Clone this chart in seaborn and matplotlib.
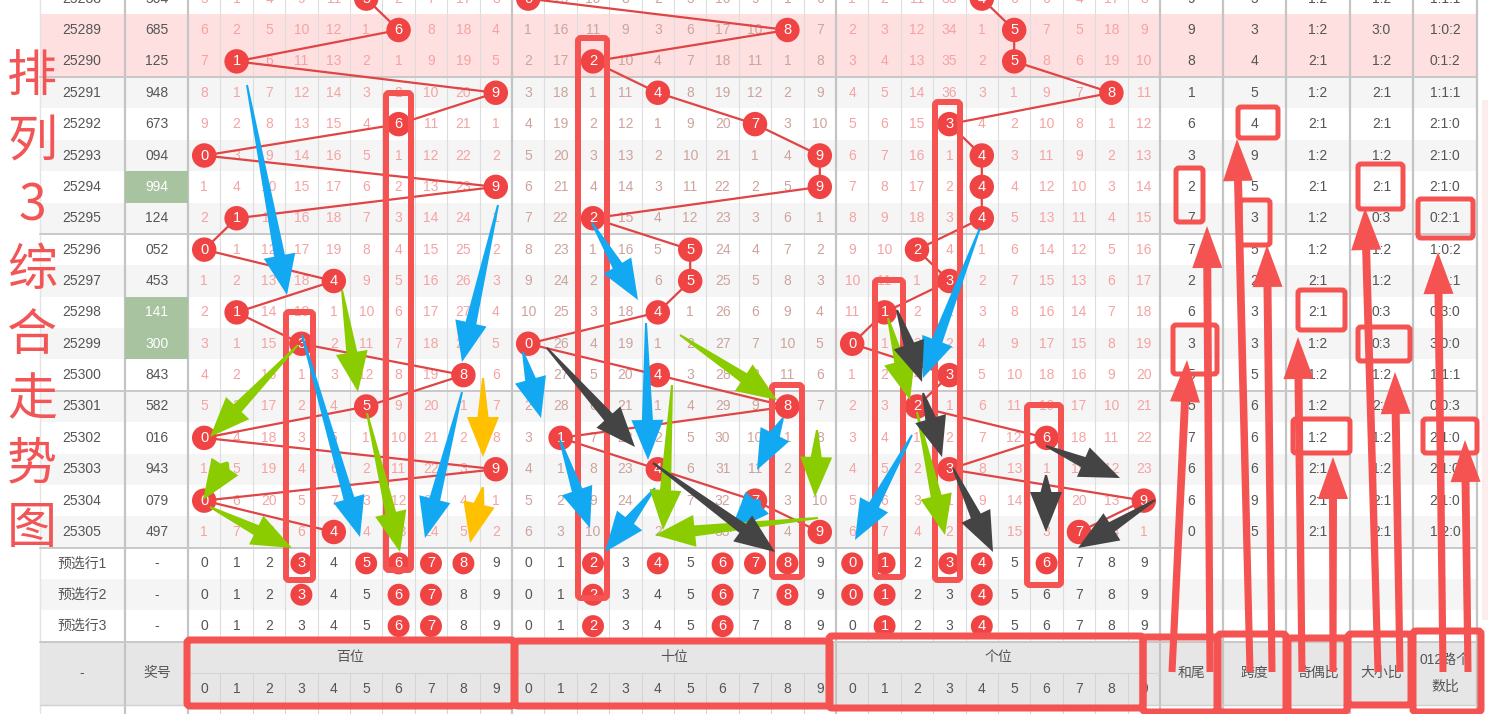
"""
排列3 combined trend chart (omission table with hit balls and hand-drawn marks).
"""
import matplotlib
matplotlib.use("Agg")
import matplotlib.pyplot as plt
from matplotlib.patches import Rectangle, FancyBboxPatch, Polygon
import numpy as np
import pandas as pd
import seaborn as sns

# ---------------- data ----------------
issues = ["25288", "25289", "25290", "25291", "25292", "25293", "25294", "25295", "25296",
          "25297", "25298", "25299", "25300", "25301", "25302", "25303", "25304", "25305"]
draws = ["504", "685", "125", "948", "673", "094", "994", "124", "052",
         "453", "141", "300", "843", "582", "016", "943", "079", "497"]
green_draws = ["25294", "25298", "25299"]
pink_issues = ["25289", "25290"]

# omission values per issue (0 = the hit cell, drawn as a ball)
bai_miss = [
    [5, 1, 4, 9, 11, 0, 2, 7, 17, 3], [6, 2, 5, 10, 12, 1, 0, 8, 18, 4],
    [7, 0, 6, 11, 13, 2, 1, 9, 19, 5], [8, 1, 7, 12, 14, 3, 2, 10, 20, 0],
    [9, 2, 8, 13, 15, 4, 0, 11, 21, 1], [0, 3, 9, 14, 16, 5, 1, 12, 22, 2],
    [1, 4, 10, 15, 17, 6, 2, 13, 23, 0], [2, 0, 11, 16, 18, 7, 3, 14, 24, 1],
    [0, 1, 12, 17, 19, 8, 4, 15, 25, 2], [1, 2, 13, 18, 0, 9, 5, 16, 26, 3],
    [2, 0, 14, 19, 1, 10, 6, 17, 27, 4], [3, 1, 15, 0, 2, 11, 7, 18, 28, 5],
    [4, 2, 16, 1, 3, 12, 8, 19, 0, 6], [5, 3, 17, 2, 4, 0, 9, 20, 1, 7],
    [0, 4, 18, 3, 5, 1, 10, 21, 2, 8], [1, 5, 19, 4, 6, 2, 11, 22, 3, 0],
    [0, 6, 20, 5, 7, 3, 12, 23, 4, 1], [1, 7, 21, 6, 0, 4, 13, 24, 5, 2],
]
shi_miss = [
    [0, 15, 10, 8, 2, 5, 16, 9, 1, 6], [1, 16, 11, 9, 3, 6, 17, 10, 0, 7],
    [2, 17, 0, 10, 4, 7, 18, 11, 1, 8], [3, 18, 1, 11, 0, 8, 19, 12, 2, 9],
    [4, 19, 2, 12, 1, 9, 20, 0, 3, 10], [5, 20, 3, 13, 2, 10, 21, 1, 4, 0],
    [6, 21, 4, 14, 3, 11, 22, 2, 5, 0], [7, 22, 0, 15, 4, 12, 23, 3, 6, 1],
    [8, 23, 1, 16, 5, 0, 24, 4, 7, 2], [9, 24, 2, 17, 6, 0, 25, 5, 8, 3],
    [10, 25, 3, 18, 0, 1, 26, 6, 9, 4], [0, 26, 4, 19, 1, 2, 27, 7, 10, 5],
    [1, 27, 5, 20, 0, 3, 28, 8, 11, 6], [2, 28, 6, 21, 1, 4, 29, 9, 0, 7],
    [3, 0, 7, 22, 2, 5, 30, 10, 1, 8], [4, 1, 8, 23, 0, 6, 31, 11, 2, 9],
    [5, 2, 9, 24, 1, 7, 32, 0, 3, 10], [6, 3, 10, 25, 2, 8, 33, 1, 4, 0],
]
ge_miss = [
    [1, 2, 11, 33, 0, 6, 6, 4, 17, 8], [2, 3, 12, 34, 1, 0, 7, 5, 18, 9],
    [3, 4, 13, 35, 2, 0, 8, 6, 19, 10], [4, 5, 14, 36, 3, 1, 9, 7, 0, 11],
    [5, 6, 15, 0, 4, 2, 10, 8, 1, 12], [6, 7, 16, 1, 0, 3, 11, 9, 2, 13],
    [7, 8, 17, 2, 0, 4, 12, 10, 3, 14], [8, 9, 18, 3, 0, 5, 13, 11, 4, 15],
    [9, 10, 0, 4, 1, 6, 14, 12, 5, 16], [10, 11, 1, 0, 2, 7, 15, 13, 6, 17],
    [11, 0, 2, 1, 3, 8, 16, 14, 7, 18], [0, 1, 3, 2, 4, 9, 17, 15, 8, 19],
    [1, 2, 4, 0, 5, 10, 18, 16, 9, 20], [2, 3, 0, 1, 6, 11, 19, 17, 10, 21],
    [3, 4, 1, 2, 7, 12, 0, 18, 11, 22], [4, 5, 2, 0, 8, 13, 1, 19, 12, 23],
    [5, 6, 3, 1, 9, 14, 2, 20, 13, 0], [6, 7, 4, 2, 10, 15, 3, 0, 14, 1],
]

hewei = ["9", "9", "8", "1", "6", "3", "2", "7", "7", "2", "6", "3", "5", "5", "7", "6", "6", "0"]
kuadu = ["5", "3", "4", "5", "4", "9", "5", "3", "5", "2", "3", "3", "5", "6", "6", "6", "9", "5"]
jiou = ["1:2", "1:2", "2:1", "1:2", "2:1", "1:2", "2:1", "1:2", "1:2",
        "2:1", "2:1", "1:2", "1:2", "1:2", "1:2", "2:1", "2:1", "2:1"]
daxiao = ["1:2", "3:0", "1:2", "2:1", "2:1", "1:2", "2:1", "0:3", "1:2",
          "1:2", "0:3", "0:3", "1:2", "2:1", "1:2", "1:2", "2:1", "2:1"]
lu012 = ["1:1:1", "1:0:2", "0:1:2", "1:1:1", "2:1:0", "2:1:0", "2:1:0", "0:2:1", "1:0:2",
         "1:1:1", "0:3:0", "3:0:0", "1:1:1", "0:0:3", "2:1:0", "2:1:0", "2:1:0", "1:2:0"]

pre_rows = ["预选行1", "预选行2", "预选行3"]
pre_bai = [[3, 5, 6, 7, 8], [3, 6, 7], [6, 7]]
pre_shi = [[2, 4, 6, 7, 8], [2, 6, 8], [2, 6]]
pre_ge = [[0, 1, 3, 4, 6], [0, 1, 4], [1, 4]]

digits = list(range(10))
sections = ["bai", "shi", "ge"]
section_names = ["百位", "十位", "个位"]
stat_headers = ["和尾", "跨度", "奇偶比", "大小比", "012路个\n数比"]
title_chars = list("排列3综合走势图")

# ---------------- layout (pixel canvas) ----------------
W, H = 1488, 714
ROW_H = 31.375
ROW0_Y = -1.375
SEC_X = {"bai": 188.0, "shi": 512.0, "ge": 836.0}
COL_W = 32.4
STAT_EDGES = [1160, 1223, 1286, 1350, 1413, 1477]
TABLE_L, TABLE_R = 40, 1477

BALL = "#f04444"
LINE = "#e04444"
MARK = "#f55252"
GREY_TXT = "#555555"
MISS_COL = {"bai": "#f5a3a3", "shi": "#cda39d", "ge": "#f5a3a3"}


def row_y(i):
    return ROW0_Y + i * ROW_H


def col_x(sec, d):
    return SEC_X[sec] + (d + 0.5) * COL_W


sns.set_theme(style="white")
plt.rcParams["font.family"] = ["Liberation Sans", "Noto Sans CJK SC", "DejaVu Sans"]

fig = plt.figure(figsize=(W / 100, H / 100), dpi=100)
ax = fig.add_axes([0, 0, 1, 1])


def txt(x, y, s, color=GREY_TXT, size=10, z=3, **kw):
    ax.text(x, y, s, color=color, fontsize=size, ha="center", va="center", zorder=z, **kw)


# row backgrounds
n_rows = len(issues) + len(pre_rows)
for i in range(n_rows):
    y0 = row_y(i) - ROW_H / 2
    if i < len(issues) and issues[i] in pink_issues:
        bg = "#ffe0e0"
    elif i % 2 == 1:
        bg = "#f5f5f5"
    else:
        bg = "white"
    ax.add_patch(Rectangle((TABLE_L, y0), TABLE_R - TABLE_L, ROW_H, color=bg, zorder=0, lw=0))

foot_top = row_y(n_rows) - ROW_H / 2
foot_bot = foot_top + 2 * ROW_H
ax.add_patch(Rectangle((TABLE_L, foot_top), TABLE_R - TABLE_L, 2 * ROW_H,
                       color="#e6e6e6", zorder=0, lw=0))
ax.add_patch(Rectangle((1482, 100), 6, 520, color="#fdecec", zorder=0, lw=0))

# grid lines
for sec in sections:
    for d in range(1, 10):
        x = SEC_X[sec] + d * COL_W
        ax.plot([x, x], [-5, foot_top], color="#dddddd", lw=0.8, zorder=1)
        ax.plot([x, x], [foot_top + ROW_H, H], color="#d4d4d4", lw=0.8, zorder=1)
for x in [125, 188, 512, 836] + STAT_EDGES:
    ax.plot([x, x], [-5, H], color="#c4c4c4", lw=1.6, zorder=1)
ax.plot([TABLE_L, TABLE_L], [-5, H], color="#e4e4e4", lw=1.0, zorder=1)
for i in [2, 7, 12, 17, 20]:
    y = row_y(i) + ROW_H / 2
    ax.plot([TABLE_L, TABLE_R], [y, y], color="#c8c8c8", lw=1.4, zorder=1)
ax.plot([188, 1160], [foot_top + ROW_H] * 2, color="#d4d4d4", lw=0.8, zorder=1)
ax.plot([TABLE_L, TABLE_R], [foot_bot] * 2, color="#d0d0d0", lw=1.0, zorder=1)

# issue / draw / stats columns
for i, (iss, dr) in enumerate(zip(issues, draws)):
    y = row_y(i)
    txt(82, y, iss)
    if iss in green_draws:
        ax.add_patch(Rectangle((125, y - ROW_H / 2), 63, ROW_H, color="#a8c3a0", zorder=1, lw=0))
        txt(157, y, dr, color="white")
    else:
        txt(157, y, dr)
    for k, vals in enumerate([hewei, kuadu, jiou, daxiao, lu012]):
        txt((STAT_EDGES[k] + STAT_EDGES[k + 1]) / 2, y, vals[i])

# omission numbers
for sec, table in zip(sections, [bai_miss, shi_miss, ge_miss]):
    for i, row in enumerate(table):
        for d, v in enumerate(row):
            if v != 0:
                txt(col_x(sec, d), row_y(i), str(v), color=MISS_COL[sec])

# hit balls and trend lines
rows = []
for i, dr in enumerate(draws):
    for p, sec in enumerate(sections):
        d = int(dr[p])
        rows.append(dict(pos=sec, digit=d, x=col_x(sec, d), y=row_y(i)))
balls = pd.DataFrame(rows)

for sec in sections:
    sns.lineplot(data=balls[balls["pos"] == sec], x="x", y="y", sort=False, estimator=None,
                 color=LINE, linewidth=1.6, ax=ax, zorder=3, legend=False)
sns.scatterplot(data=balls, x="x", y="y", s=310, color=BALL, edgecolor="none",
                linewidth=0, ax=ax, zorder=5, legend=False)
for _, r in balls.iterrows():
    txt(r["x"], r["y"], str(int(r["digit"])), color="white", size=10.5, z=6)

# pre-selection rows
pre = []
for k, name in enumerate(pre_rows):
    i = len(issues) + k
    txt(82, row_y(i), name)
    txt(157, row_y(i), "-")
    for sec, picks in zip(sections, [pre_bai, pre_shi, pre_ge]):
        for d in digits:
            if d in picks[k]:
                pre.append(dict(x=col_x(sec, d), y=row_y(i), digit=d))
            else:
                txt(col_x(sec, d), row_y(i), str(d))
pre = pd.DataFrame(pre)
sns.scatterplot(data=pre, x="x", y="y", s=250, color=BALL, edgecolor="none",
                linewidth=0, ax=ax, zorder=5, legend=False)
for _, r in pre.iterrows():
    txt(r["x"], r["y"], str(int(r["digit"])), color="white", size=10.5, z=6)

# footer header
fy1 = foot_top + ROW_H / 2
fy2 = foot_top + 1.5 * ROW_H
txt(82, foot_top + ROW_H, "-")
txt(157, foot_top + ROW_H, "奖号")
for sec, name in zip(sections, section_names):
    txt(SEC_X[sec] + 5 * COL_W, fy1, name)
    for d in digits:
        txt(col_x(sec, d), fy2, str(d))
for k, name in enumerate(stat_headers):
    txt((STAT_EDGES[k] + STAT_EDGES[k + 1]) / 2, foot_top + ROW_H, name, linespacing=2.2)

# ---------------- hand-drawn marks ----------------
col_boxes = [(386, 93, 411, 570), (286, 312, 313, 580), (578, 38, 607, 598),
             (772, 385, 802, 577), (875, 280, 903, 577), (935, 102, 960, 580),
             (1027, 405, 1061, 585)]
stat_boxes = [(1176, 168, 1203, 222), (1238, 107, 1278, 138), (1240, 200, 1270, 245),
              (1358, 164, 1403, 209), (1418, 199, 1473, 238), (1173, 325, 1217, 374),
              (1298, 290, 1345, 330), (1358, 327, 1410, 361), (1293, 419, 1350, 453),
              (1423, 419, 1477, 453)]
foot_boxes = [(187, 640, 514, 706), (515, 641, 830, 706), (829, 636, 1143, 708),
              (1143, 637, 1217, 712), (1218, 634, 1286, 712), (1288, 638, 1347, 712),
              (1348, 634, 1411, 705), (1413, 631, 1481, 712)]
for boxes, lw in [(col_boxes, 6), (stat_boxes, 5), (foot_boxes, 7)]:
    for x0, y0, x1, y1 in boxes:
        ax.add_patch(FancyBboxPatch((x0, y0), x1 - x0, y1 - y0,
                                    boxstyle="round,pad=0,rounding_size=3", fill=False,
                                    ec=MARK, lw=lw * 0.72, zorder=11))


def fat_arrow(x0, y0, x1, y1, color, w0=2.0, w1=11.0, hw=32.0, hl=40.0, z=12):
    p0, tip = np.array([x0, y0], float), np.array([x1, y1], float)
    u = (tip - p0) / np.hypot(*(tip - p0))
    n = np.array([-u[1], u[0]])
    base = tip - u * hl
    pts = [p0 + n * w0 / 2, base + n * w1 / 2, base + n * hw / 2, tip,
           base - n * hw / 2, base - n * w1 / 2, p0 - n * w0 / 2]
    ax.add_patch(Polygon(pts, closed=True, fc=color, ec="none", zorder=z))


arrows = {
    "#12a9f2": [(247, 85, 287, 295), (498, 205, 462, 362), (302, 335, 360, 537),
                (462, 392, 425, 538), (523, 352, 541, 418), (646, 323, 648, 460),
                (592, 223, 638, 300), (560, 440, 590, 528), (655, 488, 605, 552),
                (783, 418, 757, 470), (760, 500, 730, 532), (980, 228, 923, 378),
                (912, 435, 855, 540)],
    "#8acc00": [(342, 290, 358, 392), (298, 345, 210, 437), (228, 462, 203, 500),
                (210, 507, 292, 548), (367, 413, 400, 552), (680, 335, 777, 400),
                (672, 385, 663, 530), (817, 430, 815, 497), (818, 518, 655, 535),
                (888, 318, 910, 400), (917, 412, 945, 535)],
    "#ffc000": [(483, 378, 483, 457), (483, 487, 470, 543)],
    "#444444": [(547, 348, 635, 447), (653, 463, 775, 552), (897, 310, 922, 382),
                (923, 393, 942, 457), (953, 468, 993, 552), (1046, 446, 1120, 478),
                (1046, 475, 1046, 532), (1155, 500, 1078, 548)],
}
for color, lst in arrows.items():
    for a in lst:
        fat_arrow(*a, color=color)

red_arrows = [(1172, 672, 1187, 360), (1210, 672, 1207, 226), (1250, 672, 1237, 139),
              (1272, 672, 1267, 245), (1302, 672, 1298, 337), (1333, 672, 1333, 457),
              (1378, 672, 1365, 208), (1400, 672, 1395, 372), (1443, 672, 1438, 252),
              (1468, 672, 1465, 440)]
for a in red_arrows:
    fat_arrow(*a, color=MARK, w0=7, w1=8, hw=30, hl=42, z=13)

# vertical title
for k, ch in enumerate(title_chars):
    ax.text(32, 78 + k * 64.4, ch, color="#f25555", fontsize=36, ha="center",
            va="center", zorder=14, family=["Noto Sans CJK SC", "DejaVu Sans"])

ax.set_xlim(0, W)
ax.set_ylim(H, 0)
ax.axis("off")
fig.savefig("out.png", dpi=100)
plt.close(fig)
